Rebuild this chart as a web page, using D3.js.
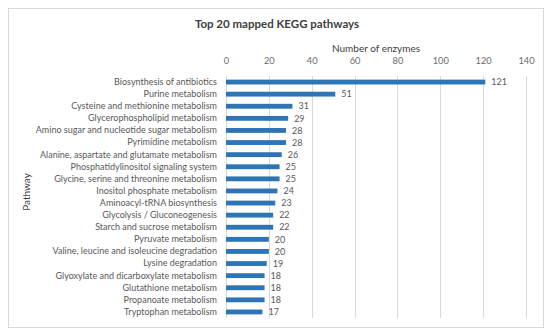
<!DOCTYPE html>
<head>
<meta charset="utf-8">
<script src="https://d3js.org/d3.v7.min.js"></script>
<style>
  body { margin: 0; background: #fff; }
  text { font-family: Lato, "Open Sans", sans-serif; }
</style>
</head>
<body>
  <svg id="chart" width="550" height="335"></svg>
  <script>
    const pathways = [
      "Biosynthesis of antibiotics",
      "Purine metabolism",
      "Cysteine and methionine metabolism",
      "Glycerophospholipid metabolism",
      "Amino sugar and nucleotide sugar metabolism",
      "Pyrimidine metabolism",
      "Alanine, aspartate and glutamate metabolism",
      "Phosphatidylinositol signaling system",
      "Glycine, serine and threonine metabolism",
      "Inositol phosphate metabolism",
      "Aminoacyl-tRNA biosynthesis",
      "Glycolysis / Gluconeogenesis",
      "Starch and sucrose metabolism",
      "Pyruvate metabolism",
      "Valine, leucine and isoleucine degradation",
      "Lysine degradation",
      "Glyoxylate and dicarboxylate metabolism",
      "Glutathione metabolism",
      "Propanoate metabolism",
      "Tryptophan metabolism"
    ];
    const enzymes = [121, 51, 31, 29, 28, 28, 26, 25, 25, 24, 23, 22, 22, 20, 20, 19, 18, 18, 18, 17];
    const xTicks = [0, 20, 40, 60, 80, 100, 120, 140];

    const svg = d3.select("#chart");
    const margin = {top: 76, right: 23, bottom: 17, left: 226};
    const width = 550, height = 335;

    // chart frame
    svg.append("rect")
      .attr("x", 8.5).attr("y", 8.5)
      .attr("width", 535).attr("height", 319)
      .attr("fill", "#fff")
      .attr("stroke", "#d9d9d9");

    const x = d3.scaleLinear()
      .domain([0, 140])
      .range([margin.left, width - margin.right - 1]);
    const y = d3.scaleBand()
      .domain(pathways)
      .range([margin.top, height - margin.bottom])
      .paddingInner(0.6)
      .paddingOuter(0.3);

    // gridlines
    svg.append("g")
      .selectAll("line")
      .data(xTicks)
      .join("line")
      .attr("x1", d => Math.round(x(d)) + 0.5)
      .attr("x2", d => Math.round(x(d)) + 0.5)
      .attr("y1", margin.top)
      .attr("y2", height - margin.bottom)
      .attr("stroke", "#d9d9d9");

    // top axis
    const xAxis = svg.append("g")
      .attr("transform", `translate(0,${margin.top - 9})`)
      .call(d3.axisTop(x).tickValues(xTicks).tickSize(0));
    xAxis.select(".domain").remove();
    xAxis.selectAll("text")
      .attr("fill", "#6b6b6b")
      .style("font-size", "9.3px");

    // category axis
    const yAxis = svg.append("g")
      .attr("transform", `translate(${margin.left - 6},0)`)
      .call(d3.axisLeft(y).tickSize(0));
    yAxis.select(".domain").remove();
    yAxis.selectAll("text")
      .attr("fill", "#595959")
      .style("font-size", "9px");

    // bars
    svg.append("g")
      .selectAll("rect")
      .data(pathways)
      .join("rect")
      .attr("x", x(0))
      .attr("y", d => y(d))
      .attr("width", (d, i) => x(enzymes[i]) - x(0))
      .attr("height", y.bandwidth())
      .attr("fill", "#2e75b6");

    // value labels
    svg.append("g")
      .selectAll("text")
      .data(pathways)
      .join("text")
      .attr("x", (d, i) => x(enzymes[i]) + 6)
      .attr("y", d => y(d) + y.bandwidth() / 2)
      .attr("dy", "0.35em")
      .attr("fill", "#595959")
      .style("font-size", "9px")
      .text((d, i) => enzymes[i]);

    // titles
    svg.append("text")
      .attr("x", 277).attr("y", 28)
      .attr("text-anchor", "middle")
      .attr("fill", "#404040")
      .style("font-size", "11.5px")
      .style("font-weight", "bold")
      .text("Top 20 mapped KEGG pathways");

    svg.append("text")
      .attr("x", (x(0) + x(140)) / 2).attr("y", 52)
      .attr("text-anchor", "middle")
      .attr("fill", "#404040")
      .style("font-size", "10px")
      .text("Number of enzymes");

    svg.append("text")
      .attr("transform", "translate(30,192) rotate(-90)")
      .attr("text-anchor", "middle")
      .attr("fill", "#404040")
      .style("font-size", "10px")
      .text("Pathway");
  </script>
</body>
